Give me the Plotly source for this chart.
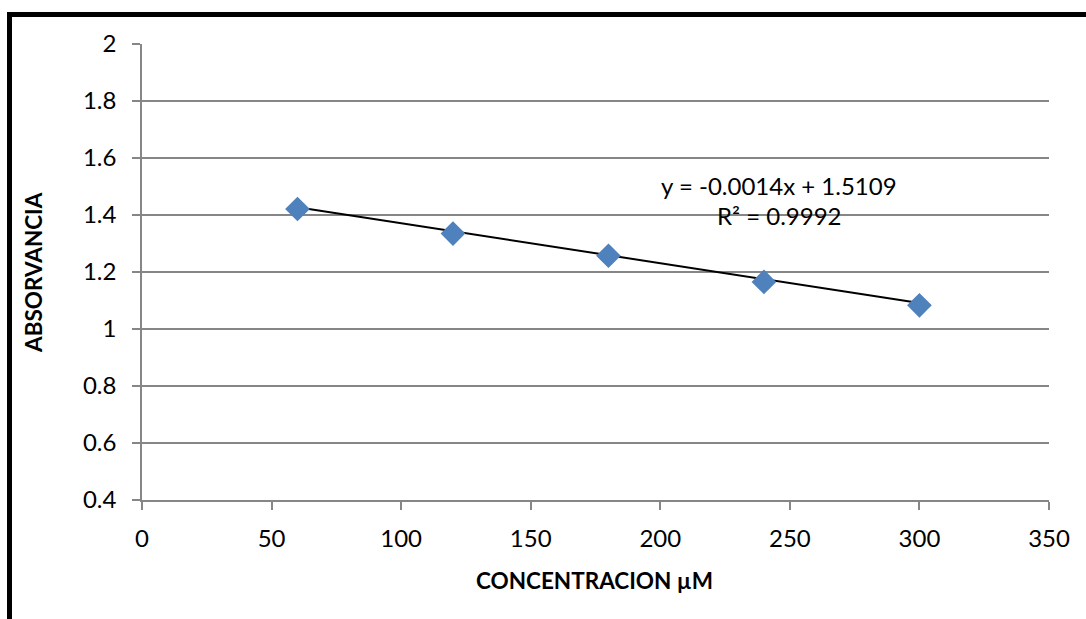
import plotly.graph_objects as go
import numpy as np

concentracion = [60, 120, 180, 240, 300]
absorvancia = [1.421, 1.335, 1.257, 1.165, 1.083]
slope = -0.0014
intercept = 1.5109
eq_text = "y = -0.0014x + 1.5109"
r2_text = "R² = 0.9992"
x_ticks = [0, 50, 100, 150, 200, 250, 300, 350]
y_ticks = [0.4, 0.6, 0.8, 1, 1.2, 1.4, 1.6, 1.8, 2]
y_ticktext = ["0.4", "0.6", "0.8", "1", "1.2", "1.4", "1.6", "1.8", "2"]

FONT = "Lato, 'Open Sans', sans-serif"

fig = go.Figure()

x_fit = np.array([concentracion[0], concentracion[-1]])
fig.add_trace(go.Scatter(
    x=x_fit, y=slope * x_fit + intercept, mode="lines",
    line=dict(color="black", width=2), showlegend=False, hoverinfo="skip"))

fig.add_trace(go.Scatter(
    x=concentracion, y=absorvancia, mode="markers",
    marker=dict(symbol="diamond", size=19, color="#4F81BD",
                line=dict(width=0)),
    showlegend=False))

fig.add_annotation(x=246, y=1.505, text=eq_text, showarrow=False,
                   font=dict(family=FONT, size=24, color="black"),
                   xanchor="center", yanchor="middle")
fig.add_annotation(x=246, y=1.40, text=r2_text, showarrow=False,
                   font=dict(family=FONT, size=24, color="black"),
                   xanchor="center", yanchor="middle")

# axis titles
fig.add_annotation(xref="paper", yref="paper", x=(33 - 142) / 907, y=(500 - 273) / 456,
                   text="<b>ABSORVANCIA</b>", textangle=-90, showarrow=False,
                   font=dict(family=FONT, size=22.5, color="black"),
                   xanchor="center", yanchor="middle")
fig.add_annotation(xref="paper", yref="paper", x=0.4994, y=(500 - 580) / 456,
                   text="<b>CONCENTRACION µM</b>", showarrow=False,
                   font=dict(family=FONT, size=22.5, color="black"),
                   xanchor="center", yanchor="middle")

# outer black frame
fig.add_shape(type="rect", xref="paper", yref="paper",
              x0=(9.5 - 142) / 907, x1=(1100 - 142) / 907,
              y0=(500 - 650) / 456, y1=(500 - 14.5) / 456,
              line=dict(color="black", width=5), fillcolor="rgba(0,0,0,0)",
              layer="above")

axis_common = dict(
    showline=True, linecolor="#868686", linewidth=1.5,
    ticks="outside", tickcolor="#868686", ticklen=8, tickwidth=1.5,
    zeroline=False,
    tickfont=dict(family=FONT, size=24, color="black"),
)

fig.update_xaxes(range=[0, 350], tickvals=x_ticks,
                 showgrid=False, ticklabelstandoff=8,
                 **axis_common)
fig.update_yaxes(range=[0.4, 2], tickvals=y_ticks, ticktext=y_ticktext,
                 showgrid=True, gridcolor="#868686", gridwidth=1.5,
                 ticklabelstandoff=11,
                 **axis_common)

fig.update_layout(
    width=1086, height=619,
    margin=dict(l=142, r=37, t=44, b=119),
    paper_bgcolor="white", plot_bgcolor="white",
    font=dict(family=FONT),
)

fig.write_html("out.html")
